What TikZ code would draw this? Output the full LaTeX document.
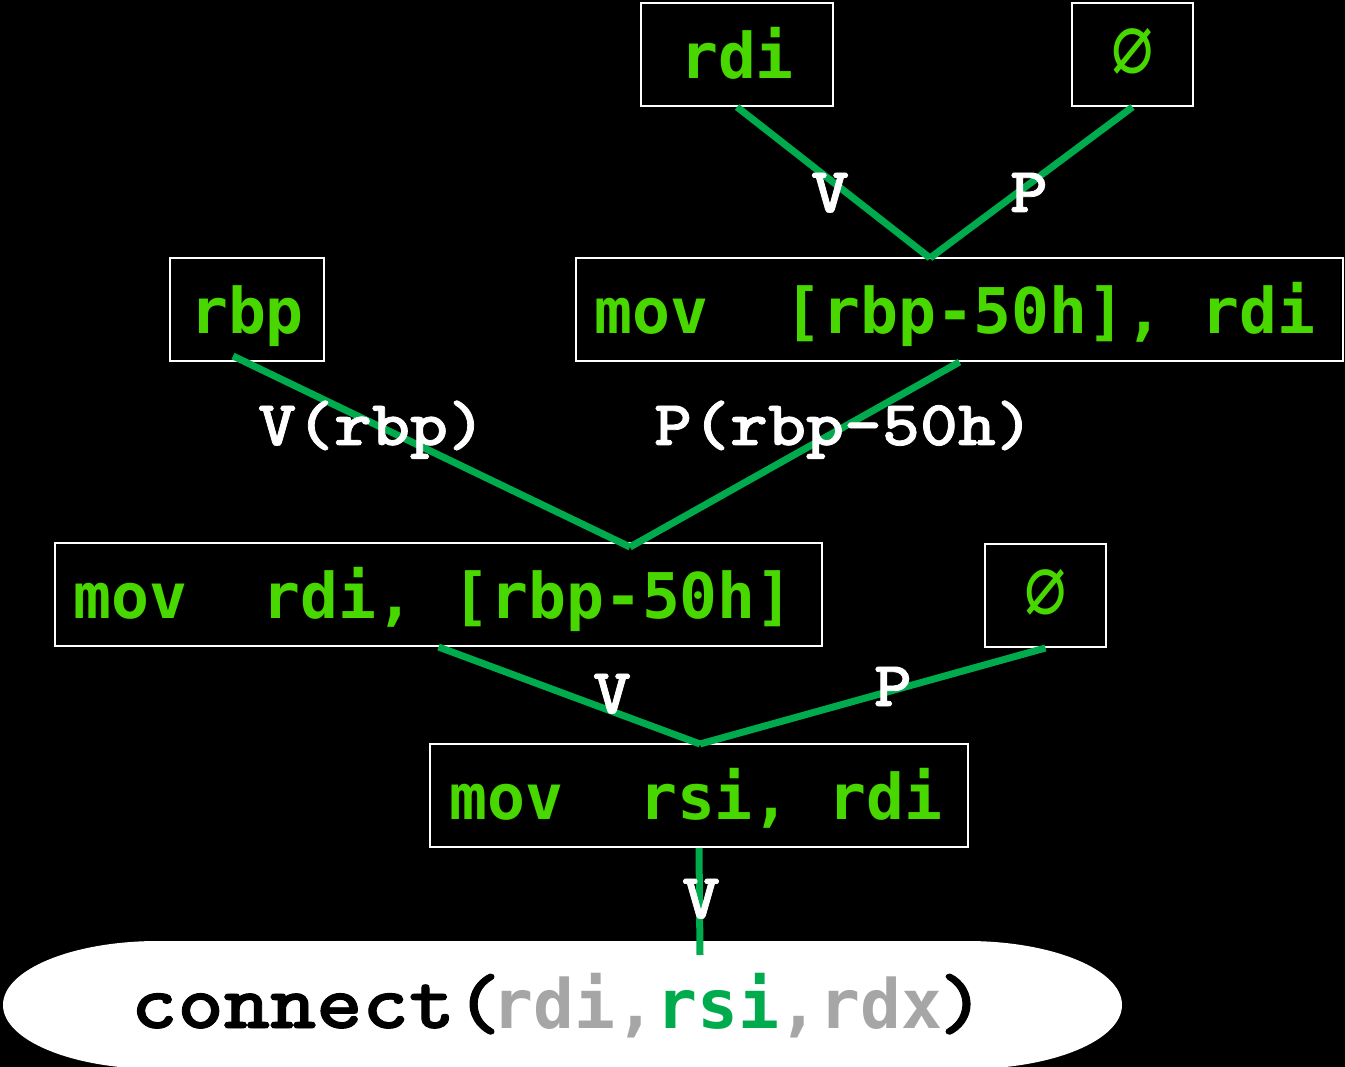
\documentclass[tikz,border=0pt]{standalone}
\usepackage{fontspec}
\newfontfamily\codefont{DejaVu Sans Mono}
% heavy, wide slab-serif typewriter face for edge tags and the call
\newfontfamily\slabfont{lmmonolt10-bold.otf}[FakeBold=1.2, FakeStretch=1.13]
\usetikzlibrary{calc}
\definecolor{codegreen}{RGB}{72,216,0}
\definecolor{flowgreen}{RGB}{0,171,78}
\definecolor{argrey}{RGB}{166,166,166}

\begin{document}
\begin{tikzpicture}[x=1pt,y=-1pt,
  insn/.style={draw=white, line width=2pt, fill=black, inner sep=0pt,
    text=codegreen, font=\codefont\bfseries\fontsize{63}{70}\selectfont,
    text height=57.6pt, text depth=9.6pt, minimum height=103pt},
  nullbox/.style={insn, font=\codefont\fontsize{64}{70}\selectfont},
  flow/.style={draw=flowgreen, line width=7pt},
  tag/.style={text=white, font=\slabfont\fontsize{64}{70}\selectfont,
    anchor=base, inner sep=0pt},
]
% canvas
\useasboundingbox (0,0) rectangle (1345,1067);
\fill[black] (0,0) rectangle (1345,1067);
\clip (0,0) rectangle (1345,1067);

% call site
\fill[white] (158,1005) ellipse[x radius=155pt, y radius=64pt];
\fill[white] (967,1005) ellipse[x radius=155pt, y radius=64pt];
\fill[white] (158,941) rectangle (967,1069);
\node[anchor=base west, inner sep=0pt] (call) at (131,1028)
  {{\slabfont\fontsize{78}{90}\selectfont connect(}\kern-9pt%
   {\codefont\bfseries\fontsize{68}{80}\selectfont
    \textcolor{argrey}{rdi,}\textcolor{flowgreen}{rsi}\textcolor{argrey}{,rdx}}%
   \kern-4pt{\slabfont\fontsize{78}{90}\selectfont )}};

% instructions and sources
\node[insn, minimum width=192pt] (rdi) at (737,54.5) {rdi};
\node[nullbox, minimum width=121pt] (null1) at (1132.5,54.5) {\scalebox{1.1}[1.35]{∅}};
\node[insn, minimum width=154pt] (rbp) at (247,309.5) {rbp};
\node[insn, minimum width=767pt] (mov1) at (959.5,309.5) {mov\ \ [rbp-50h], rdi\kern9pt};
\node[insn, minimum width=767pt] (mov2) at (438.5,594.5) {mov\ \ rdi, [rbp-50h]\kern10pt};
\node[nullbox, minimum width=121pt] (null2) at (1045.5,595.5) {\scalebox{1.1}[1.35]{∅}};
\node[insn, minimum width=538pt] (mov3) at (699,795.5) {mov\ \ rsi, rdi\kern6pt};

% junction points
\coordinate (j1) at (930,258);
\coordinate (j2) at (630,547);
\coordinate (j3) at (700,744);
\coordinate (callin) at (700,955);

% data flow
\draw[flow] (rdi.south) -- (j1);
\draw[flow] (null1.south) -- (j1);
\draw[flow] ($(rbp.south)+(-14,-6)$) -- (j2);
\draw[flow] (mov1.south) -- (j2);
\draw[flow] (mov2.south) -- (j3);
\draw[flow] (null2.south) -- (j3);
\draw[flow] (mov3.south) -- (callin);

% edge tags
\node[tag] (t1) at (830,212) {V};
\node[tag] (t2) at (1029,212) {P};
\node[tag] (t3) at (372,445) {V(rbp)};
\node[tag] (t4) at (844,445) {P(rbp-50h)};
\node[tag] (t5) at (612,713) {V};
\node[tag] (t6) at (893,706) {P};
\node[tag] (t7) at (701,918) {V};
\end{tikzpicture}
\end{document}
